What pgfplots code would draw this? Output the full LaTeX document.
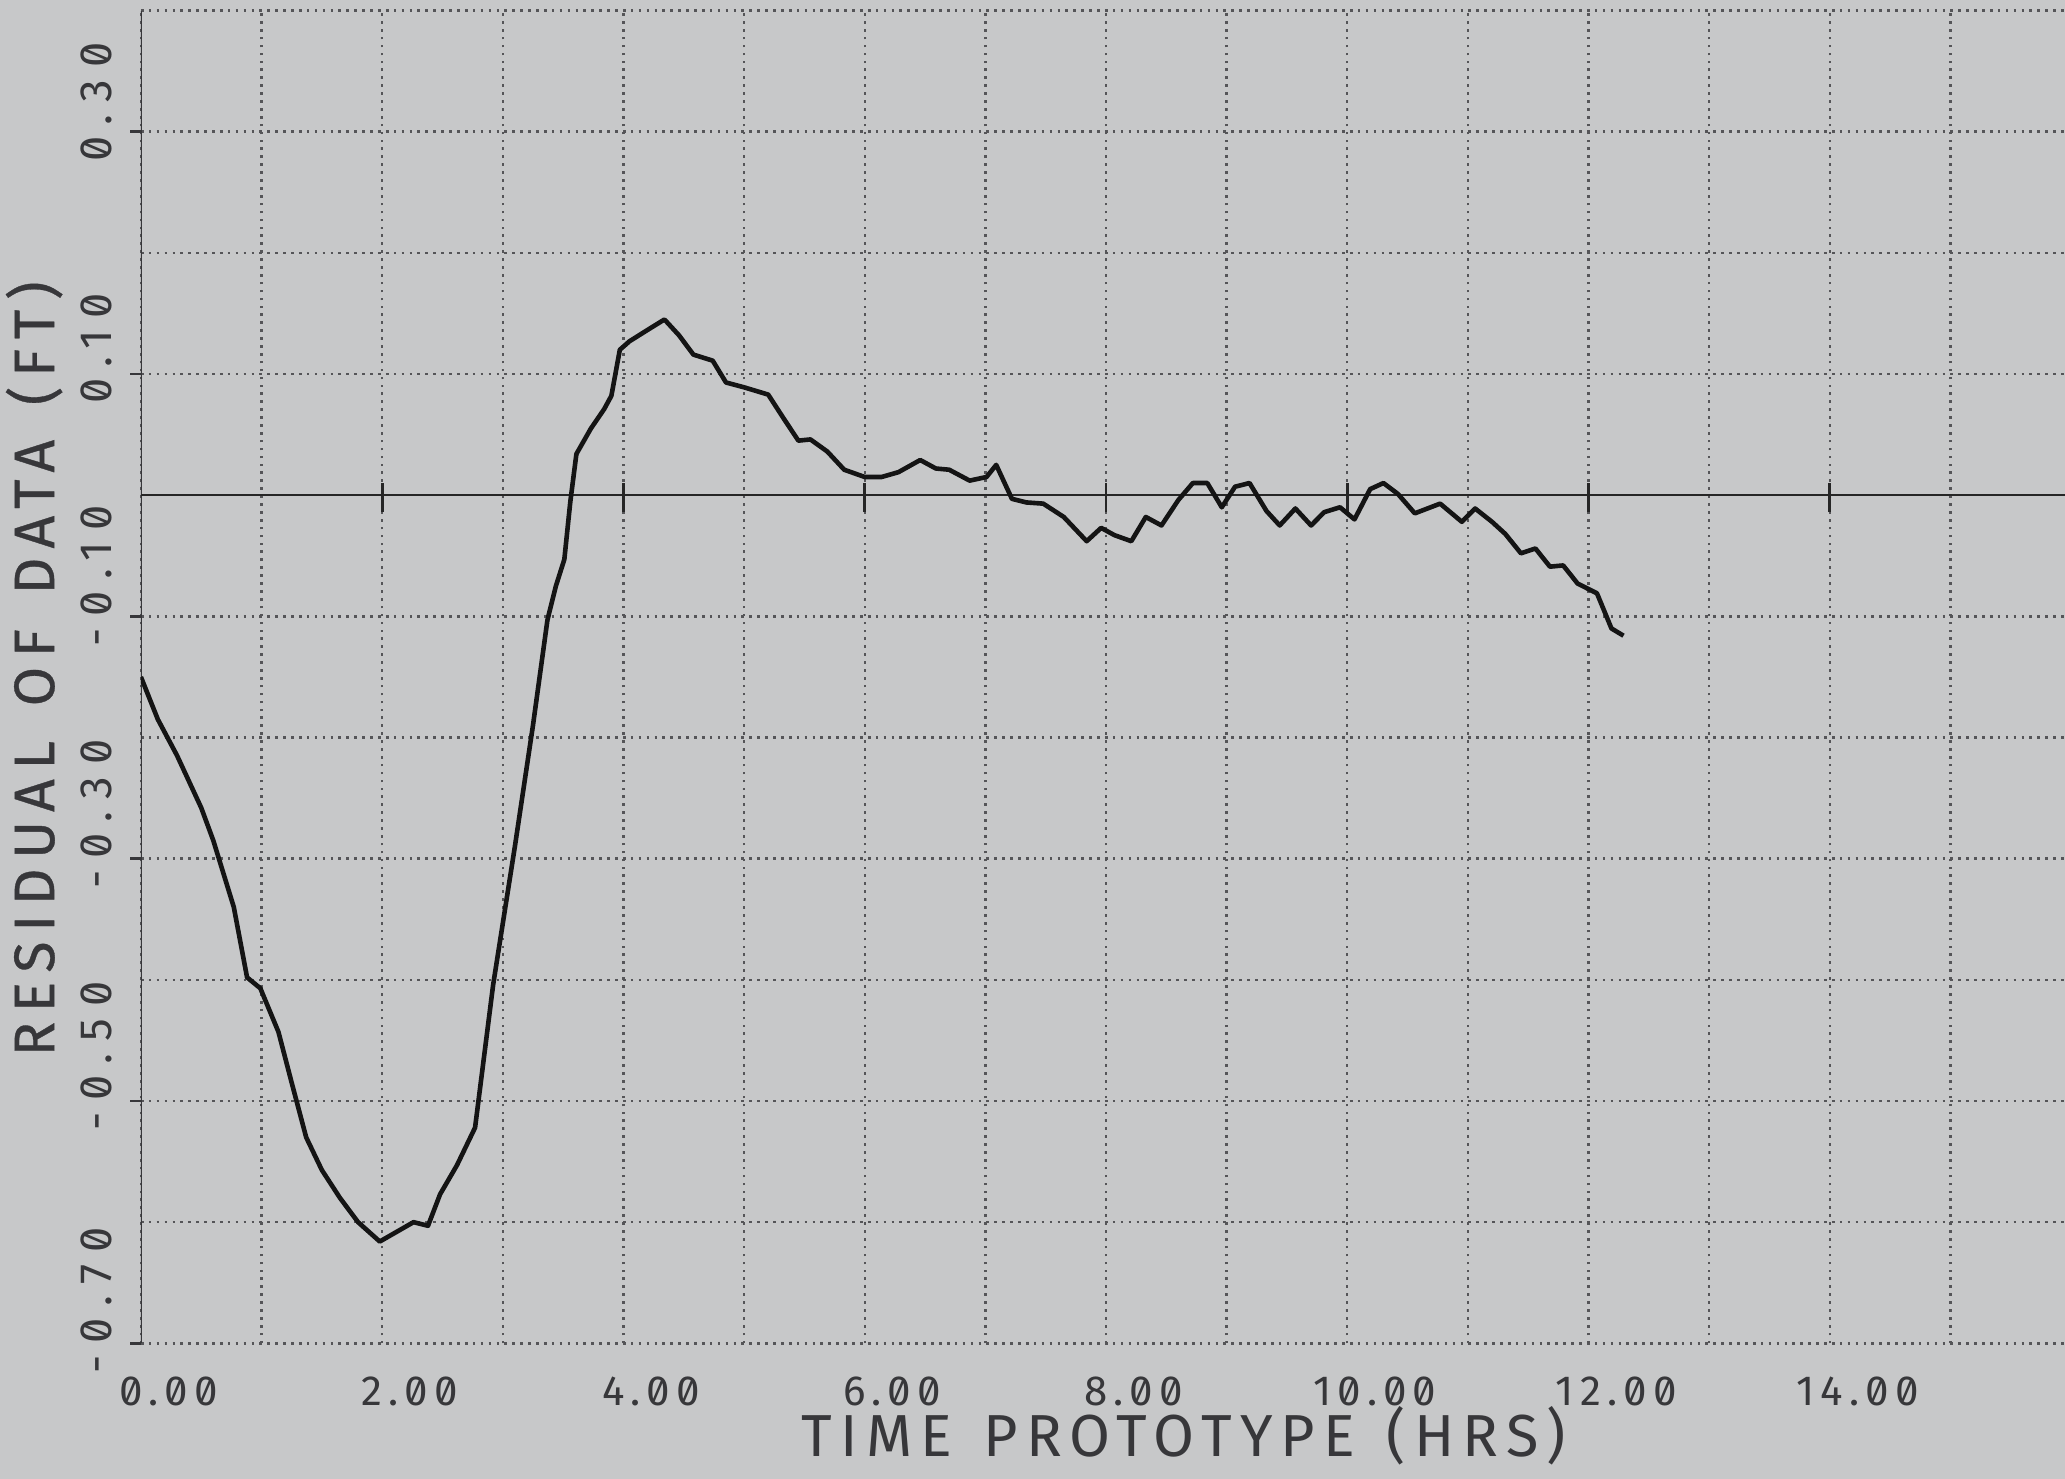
\documentclass[border=0pt]{standalone}
\usepackage{fontspec}
\usepackage{pgfplots}
\pgfplotsset{compat=1.18}
\setmainfont{Fira Sans}[Numbers=SlashedZero]
\newfontfamily\tickfont{Fira Sans}[Numbers=SlashedZero, LetterSpace=15]
\newfontfamily\ytickfont{Fira Sans}[Numbers=SlashedZero, LetterSpace=26]
\newfontfamily\xlabfont{Fira Sans}[LetterSpace=14, WordSpace=1.3]
\newfontfamily\ylabfont{Fira Sans}[LetterSpace=17, WordSpace=1.4, FakeBold=0.6]
\definecolor{bgc}{RGB}{199,200,201}
\definecolor{gridc}{RGB}{85,85,88}
\definecolor{txtc}{RGB}{55,55,58}
\begin{document}
\begin{tikzpicture}
\fill[bgc] (-32.1pt,-30.9pt) rectangle (438.3pt,306pt);
\begin{axis}[
  scale only axis,
  width=438.3pt, height=303.6pt,
  xmin=0, xmax=15.95, ymin=-0.7, ymax=0.4,
  axis line style={draw=none},
  xtick={0,2,4,6,8,10,12,14},
  minor xtick={1,3,5,7,9,11,13,15},
  ytick={-0.7,-0.5,-0.3,-0.1,0.1,0.3},
  minor ytick={-0.6,-0.4,-0.2,0,0.2,0.4},
  xtick pos=bottom, ytick pos=left,
  tick align=outside,
  x tick style={draw=none},
  y tick style={txtc, line width=0.6pt},
  major tick length=2.4pt, minor tick length=0pt,
  grid=both,
  major grid style={gridc, line width=0.55pt, dash pattern=on 0.6pt off 1.2pt},
  minor grid style={gridc, line width=0.55pt, dash pattern=on 0.6pt off 1.2pt},
  /pgf/number format/assume math mode=true,
  /pgf/number format/.cd, fixed, fixed zerofill, precision=2,
  /pgfplots/.cd,
  xticklabel style={font=\tickfont\fontsize{9.6}{10}\selectfont, text=txtc, anchor=center, inner sep=0pt, xshift=6.3pt, yshift=-8.5pt},
  yticklabel style={font=\ytickfont\fontsize{10.3}{10}\selectfont, text=txtc, xshift=-4pt, yshift=-7pt, rotate=90, anchor=south west, inner sep=0pt},
  xlabel={TIME PROTOTYPE (HRS)},
  xlabel style={font=\xlabfont\fontsize{13.5}{14}\selectfont, text=txtc, inner sep=0pt, at={(axis description cs:0.542,-0.069)}, anchor=center},
  ylabel={RESIDUAL OF DATA (FT)},
  ylabel style={font=\ylabfont\fontsize{13}{14}\selectfont, text=txtc, at={(axis description cs:-0.0555,0.506)}, anchor=center},
]
\draw[txtc, line width=0.7pt] (rel axis cs:0,0) -- (rel axis cs:0,1);
\draw[black!85, line width=0.6pt] (axis cs:0,0) -- (axis cs:15.95,0);
\pgfplotsinvokeforeach{2,4,6,8,10,12,14}{
  \draw[black!85, line width=0.6pt] (axis cs:#1,-0.014) -- (axis cs:#1,0.01);
}
\addplot[black!92, line width=1.05pt, line join=round] coordinates {
(0.00,-0.150) (0.14,-0.185) (0.30,-0.215) (0.50,-0.258) (0.60,-0.285)
(0.77,-0.340) (0.88,-0.398) (0.99,-0.407) (1.14,-0.443) (1.25,-0.485)
(1.37,-0.530) (1.50,-0.557) (1.65,-0.580) (1.80,-0.600) (1.98,-0.616)
(2.12,-0.608) (2.26,-0.600) (2.38,-0.603) (2.48,-0.577) (2.62,-0.553)
(2.77,-0.522) (2.92,-0.404) (3.10,-0.290) (3.25,-0.190) (3.37,-0.103)
(3.44,-0.075) (3.51,-0.053) (3.56,-0.005) (3.61,0.034) (3.73,0.055)
(3.84,0.071) (3.90,0.082) (3.97,0.120) (4.05,0.127) (4.21,0.137)
(4.34,0.145) (4.46,0.132) (4.58,0.116) (4.74,0.111) (4.85,0.093)
(5.00,0.089) (5.20,0.083) (5.33,0.063) (5.45,0.045) (5.55,0.046)
(5.69,0.036) (5.83,0.021) (6.00,0.015) (6.14,0.015) (6.28,0.019)
(6.46,0.029) (6.59,0.022) (6.70,0.021) (6.87,0.012) (7.01,0.015)
(7.09,0.025) (7.22,-0.003) (7.34,-0.006) (7.48,-0.007) (7.65,-0.018)
(7.84,-0.038) (7.96,-0.027) (8.07,-0.033) (8.21,-0.038) (8.33,-0.018)
(8.46,-0.025) (8.60,-0.004) (8.72,0.010) (8.84,0.010) (8.96,-0.010)
(9.07,0.007) (9.19,0.010) (9.33,-0.013) (9.44,-0.025) (9.57,-0.011)
(9.70,-0.025) (9.81,-0.014) (9.94,-0.010) (10.06,-0.020) (10.19,0.005)
(10.30,0.010) (10.42,0.001) (10.56,-0.015) (10.77,-0.007) (10.95,-0.022)
(11.06,-0.011) (11.20,-0.022) (11.31,-0.032) (11.44,-0.048) (11.56,-0.044)
(11.68,-0.059) (11.79,-0.058) (11.91,-0.073) (12.07,-0.081) (12.19,-0.110)
(12.29,-0.116)
};
\end{axis}
\pgfresetboundingbox
\useasboundingbox (-32.1pt,-30.9pt) rectangle (438.3pt,306pt);
\end{tikzpicture}
\end{document}
